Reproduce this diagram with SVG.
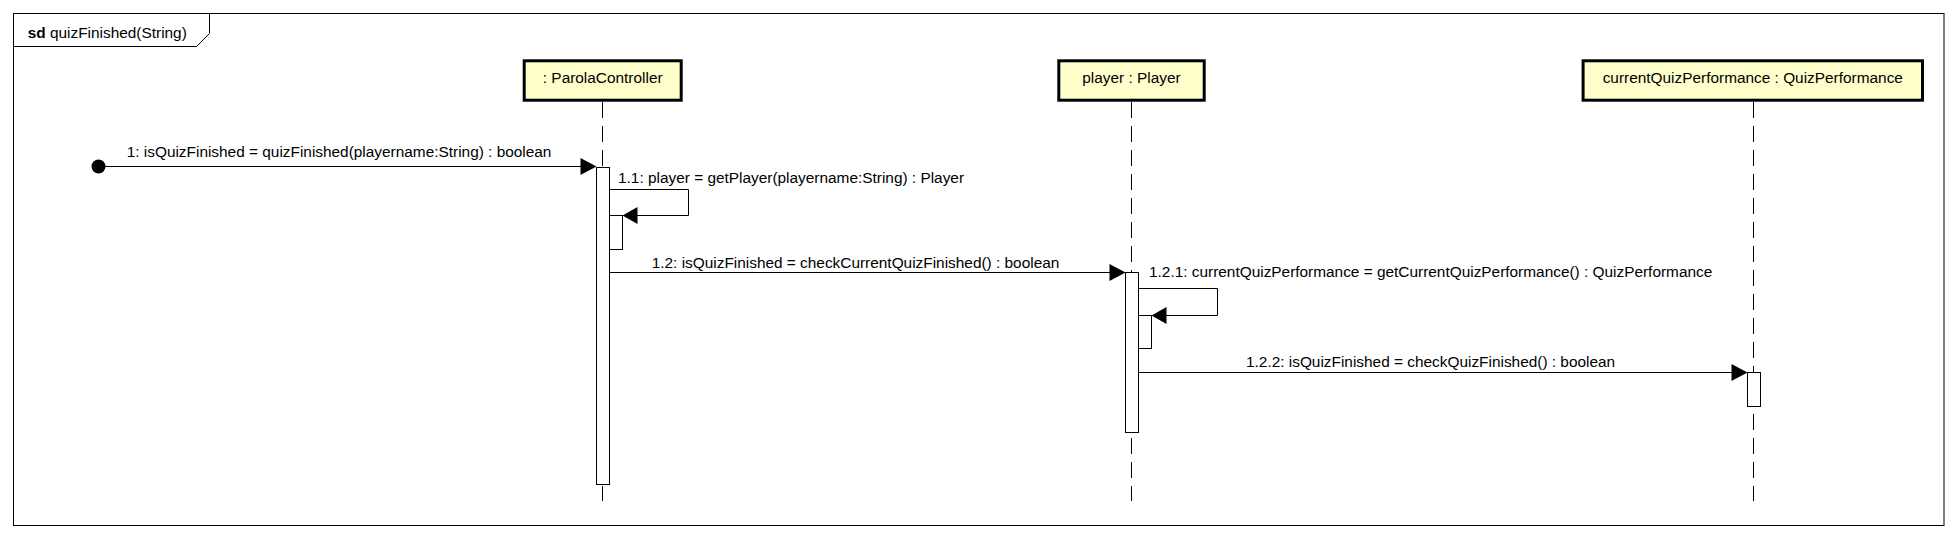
<svg xmlns="http://www.w3.org/2000/svg" width="1958" height="538" viewBox="0 0 1958 538">
<style>
text{font-family:"Liberation Sans",Arial,sans-serif;font-size:15.4px;fill:#000}
.frame{fill:none;stroke:#000;stroke-width:1}
.box{fill:#FFFFCC;stroke:#000;stroke-width:3}
.life{stroke:#000;stroke-width:1;stroke-dasharray:16 8;fill:none}
.act{fill:#fff;stroke:#000;stroke-width:1}
.msg{fill:none;stroke:#000;stroke-width:1}
.head{fill:#000;stroke:none}
</style>
<rect width="1958" height="538" fill="#fff"/>
<g id="frame">
<rect class="frame" x="13.5" y="13.5" width="1930.5" height="512"/>
<polyline class="frame" points="13.5,46.5 196.5,46.5 209.5,33.5 209.5,13.5"/>
<text x="27.7" y="37.5"><tspan font-weight="bold">sd</tspan> quizFinished(String)</text>
</g>
<g id="lifelines">
<line class="life" x1="602.5" y1="102" x2="602.5" y2="501"/>
<line class="life" x1="1131.5" y1="102" x2="1131.5" y2="501"/>
<line class="life" x1="1753.5" y1="102" x2="1753.5" y2="501"/>
</g>
<g id="parolaController">
<rect class="box" x="524.2" y="60.8" width="157" height="39.4"/>
<text x="602.7" y="83" text-anchor="middle">: ParolaController</text>
</g>
<g id="player">
<rect class="box" x="1058.8" y="60.8" width="145.4" height="39.4"/>
<text x="1131.5" y="83" text-anchor="middle">player : Player</text>
</g>
<g id="currentQuizPerformance">
<rect class="box" x="1583.1" y="60.8" width="339.4" height="39.4"/>
<text x="1752.8" y="83" text-anchor="middle">currentQuizPerformance : QuizPerformance</text>
</g>
<g id="activations">
<rect class="act" x="596.5" y="167.5" width="13" height="317"/>
<rect class="act" x="609.5" y="215.5" width="13" height="34"/>
<rect class="act" x="1125.5" y="272.5" width="13" height="160"/>
<rect class="act" x="1138.5" y="315.5" width="13" height="33"/>
<rect class="act" x="1747.5" y="372.5" width="13" height="34"/>
</g>
<g id="connectors">
<circle cx="98.5" cy="166.5" r="7" fill="#000"/>
<line class="msg" x1="98.5" y1="166.5" x2="582" y2="166.5"/>
<polygon class="head" points="596.5,166.5 580.5,158 580.5,175"/>
<text x="126.7" y="157">1: isQuizFinished = quizFinished(playername:String) : boolean</text>

<polyline class="msg" points="609.5,189.5 688.5,189.5 688.5,215.5 636,215.5"/>
<polygon class="head" points="622.5,215.5 637.5,207 637.5,224"/>
<text x="618" y="183">1.1: player = getPlayer(playername:String) : Player</text>

<line class="msg" x1="609.5" y1="272.5" x2="1111" y2="272.5"/>
<polygon class="head" points="1125.5,272.5 1109.5,264 1109.5,281"/>
<text x="651.7" y="268">1.2: isQuizFinished = checkCurrentQuizFinished() : boolean</text>

<polyline class="msg" points="1138.5,288.5 1217.5,288.5 1217.5,315.5 1165,315.5"/>
<polygon class="head" points="1151.5,315.5 1166.5,307 1166.5,324"/>
<text x="1149" y="277">1.2.1: currentQuizPerformance = getCurrentQuizPerformance() : QuizPerformance</text>

<line class="msg" x1="1138.5" y1="372.5" x2="1733" y2="372.5"/>
<polygon class="head" points="1747.5,372.5 1731.5,364 1731.5,381"/>
<text x="1246" y="367">1.2.2: isQuizFinished = checkQuizFinished() : boolean</text>
</g>
</svg>
